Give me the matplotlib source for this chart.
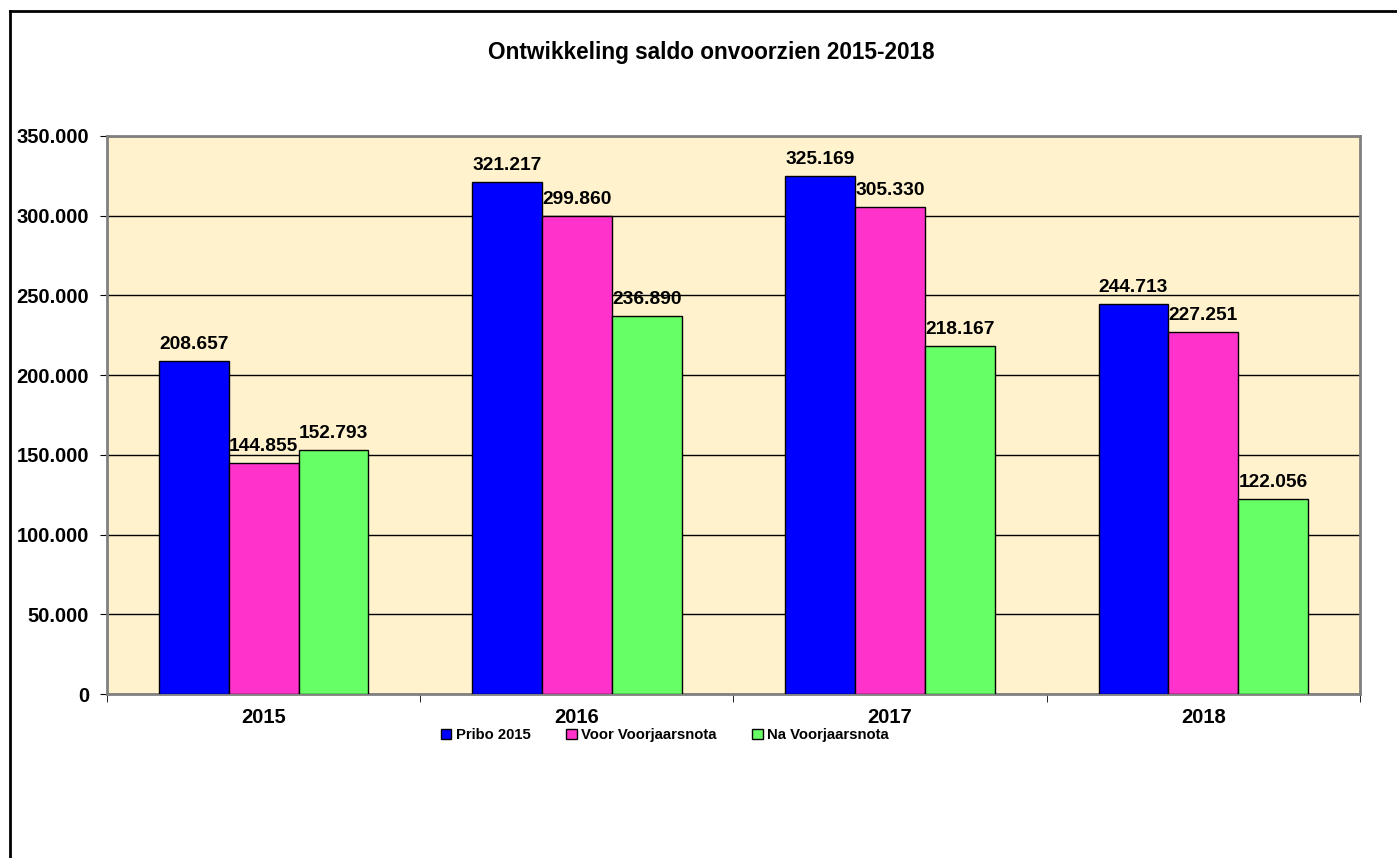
import matplotlib.pyplot as plt
from matplotlib.lines import Line2D
from matplotlib.patches import Patch
import numpy as np

plt.rcParams['font.family'] = ['Liberation Sans', 'DejaVu Sans']

jaren = ["2015", "2016", "2017", "2018"]
series = ["Pribo 2015", "Voor Voorjaarsnota", "Na Voorjaarsnota"]
pribo = [208657, 321217, 325169, 244713]
voor = [144855, 299860, 305330, 227251]
na = [152793, 236890, 218167, 122056]
kleuren = ["#0000FF", "#FF33CC", "#66FF66"]

fig = plt.figure(figsize=(13.97, 8.58), dpi=100)
ax = fig.add_axes([0.0766, 0.1911, 0.8969, 0.6504])
ax.set_facecolor("#FFF2CC")

# rand om de figuur (links en boven zichtbaar)
fig.add_artist(Line2D([0.0075, 0.0075], [0, 0.987], color="black", lw=2, transform=fig.transFigure))
fig.add_artist(Line2D([0.0075, 1.0], [0.987, 0.987], color="black", lw=2, transform=fig.transFigure))

x = np.arange(len(jaren))
breedte = 0.223
for i, (waarden, kleur) in enumerate(zip([pribo, voor, na], kleuren)):
    pos = x + (i - 1) * breedte
    ax.bar(pos, waarden, width=breedte, color=kleur, edgecolor="black", linewidth=1, zorder=3)
    for p, w in zip(pos, waarden):
        ax.text(p, w + 5000, f"{w:,}".replace(",", "."), ha="center", va="bottom",
                fontsize=13.8, fontweight="bold", zorder=4)

ax.set_xlim(-0.5, 3.5)
ax.set_ylim(0, 350000)
yt = np.arange(0, 350001, 50000)
ax.set_yticks(yt)
ax.set_yticklabels([f"{int(v):,}".replace(",", ".") for v in yt], fontsize=14.5, fontweight="bold")
ax.set_xticks(x)
ax.set_xticklabels(jaren, fontsize=14.5, fontweight="bold")
ax.tick_params(axis="x", length=0, pad=10)
ax.set_xticks(np.arange(-0.5, 3.6, 1), minor=True)
ax.tick_params(axis="x", which="minor", length=6, color="black")
ax.tick_params(axis="y", length=5, color="black", pad=8)
ax.grid(axis="y", color="black", linewidth=1, zorder=1)
for s in ax.spines.values():
    s.set_color("#808080")
    s.set_linewidth(2)

fig.text(0.509, 0.939, "Ontwikkeling saldo onvoorzien 2015-2018", ha="center", va="center",
         fontsize=16.3, fontweight="bold")

handles = [Patch(facecolor=k, edgecolor="black", label=s) for k, s in zip(kleuren, series)]
fig.legend(handles=handles, loc="center", bbox_to_anchor=(0.476, 0.143), ncol=3, frameon=False,
           prop={"size": 10.7, "weight": "bold"}, handlelength=0.7, handleheight=0.7,
           handletextpad=0.3, columnspacing=2.4)

plt.savefig("out.png", dpi=100)
